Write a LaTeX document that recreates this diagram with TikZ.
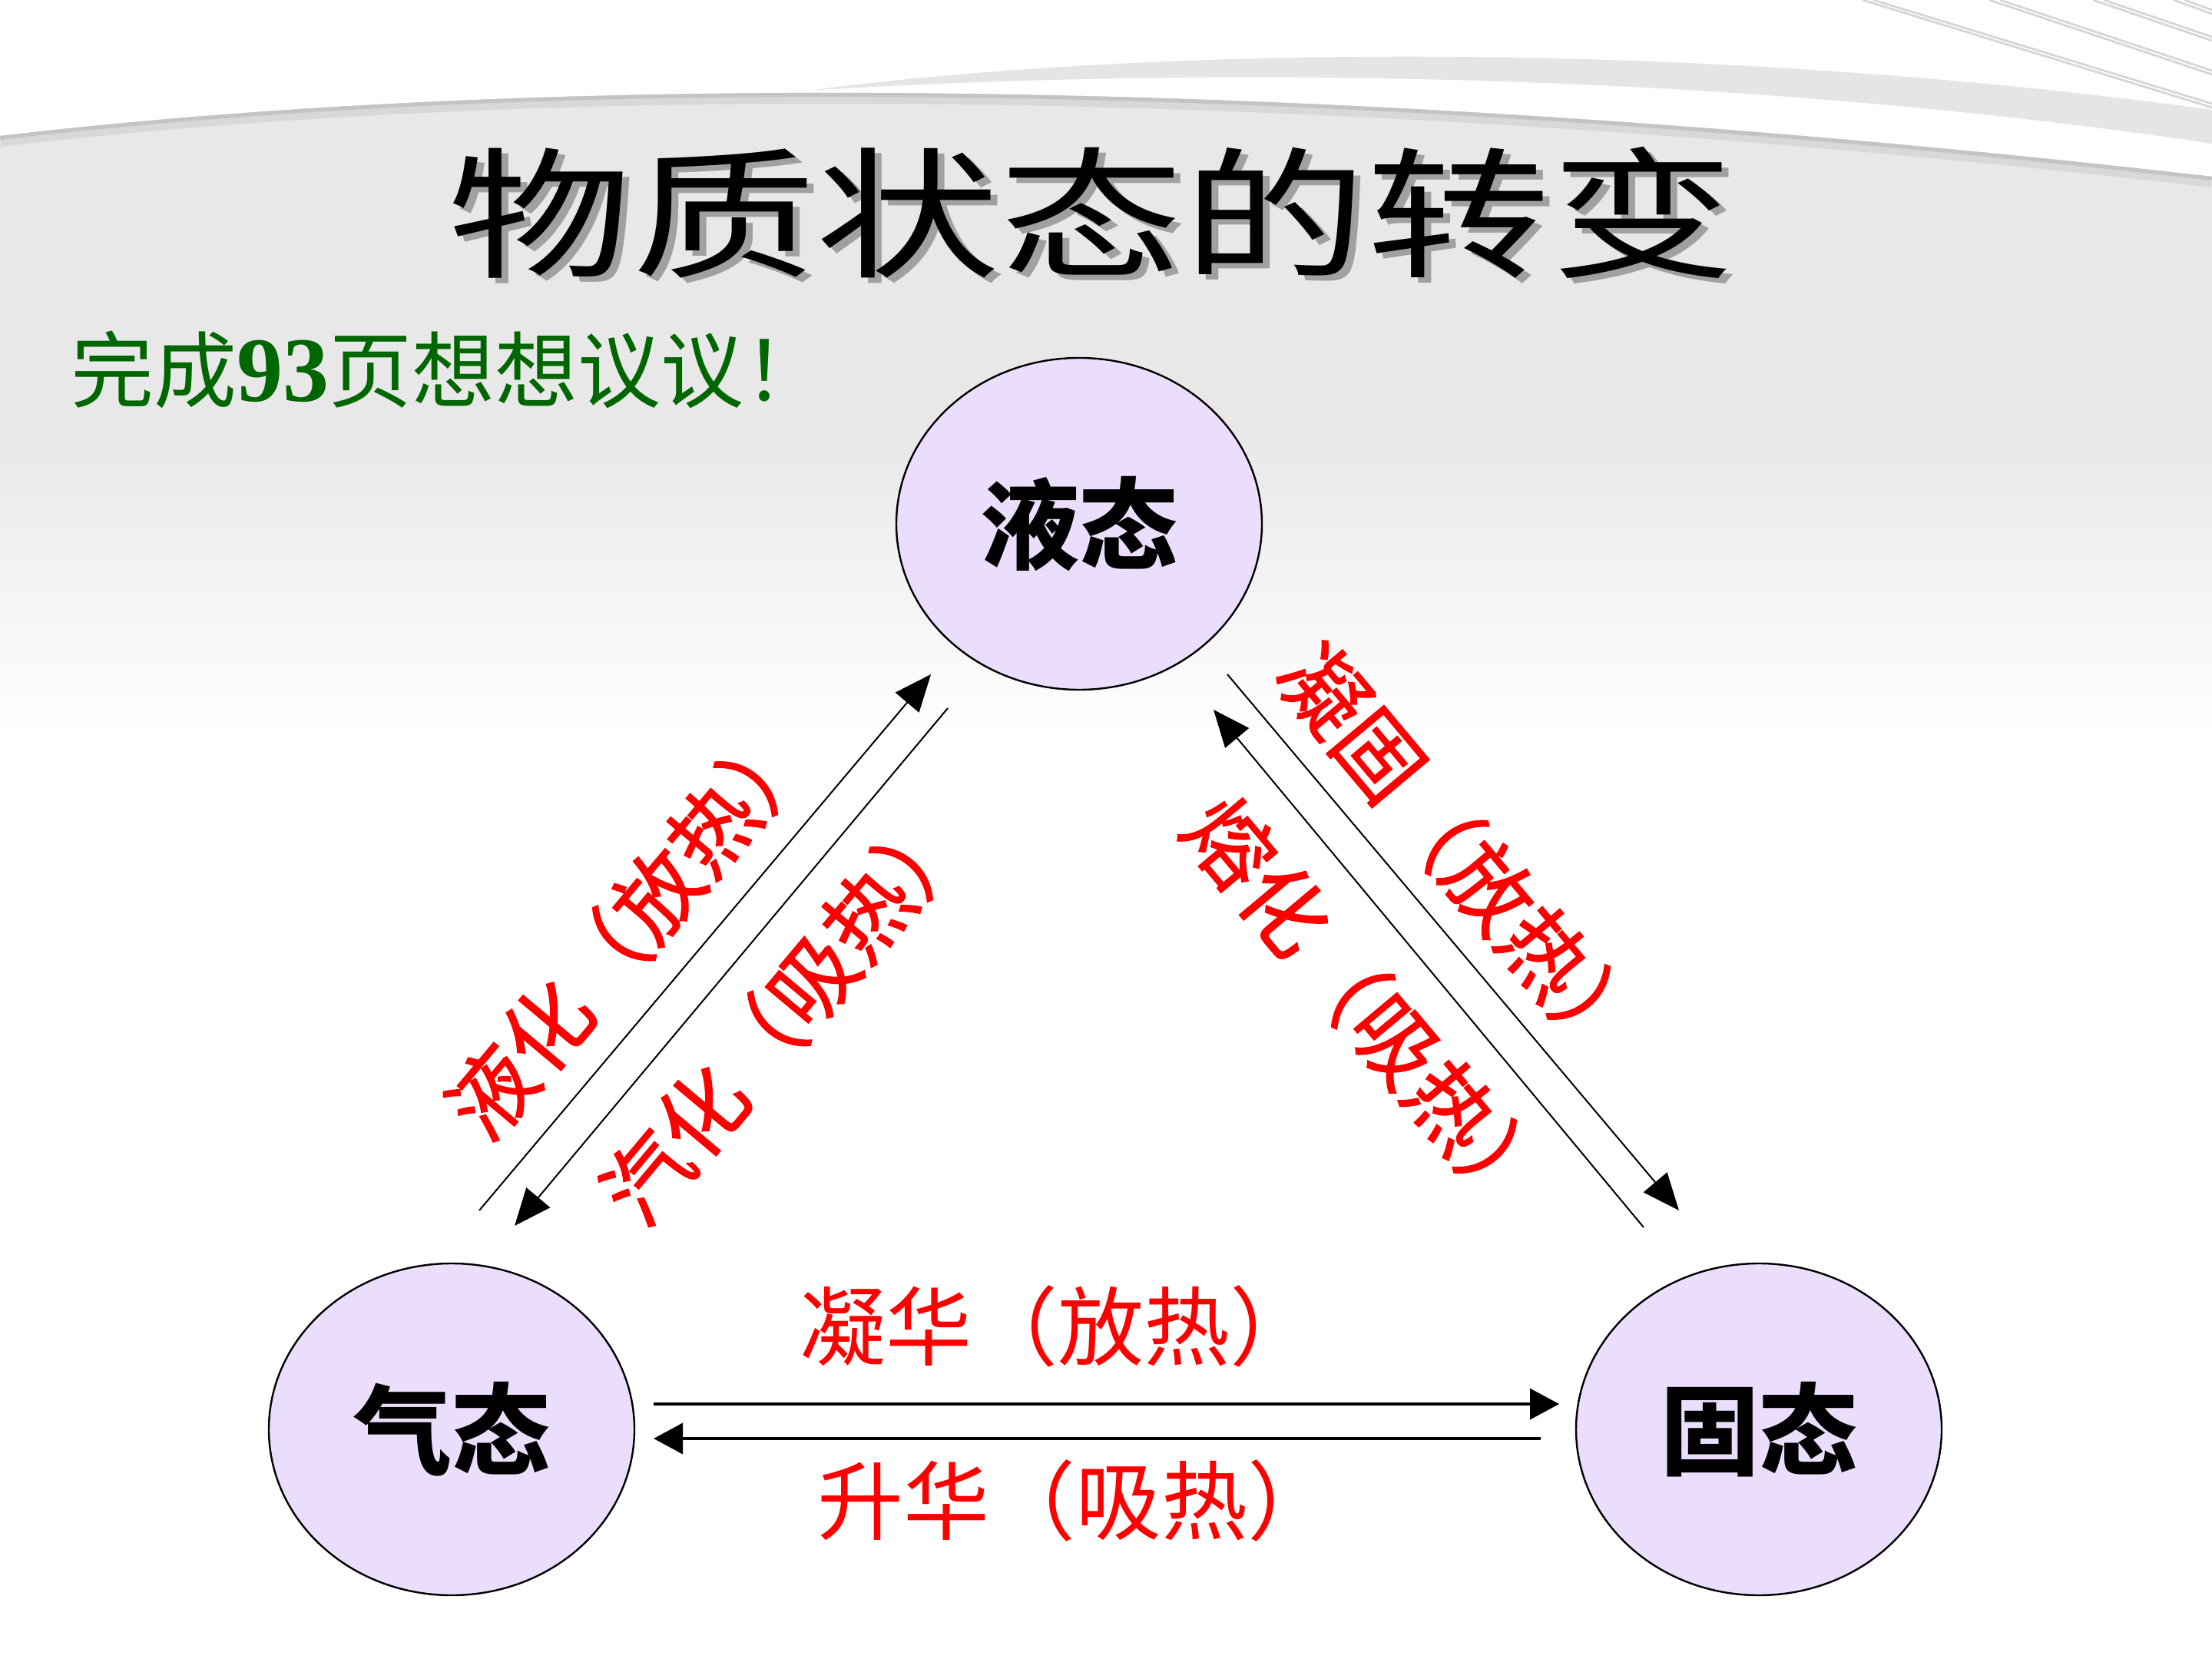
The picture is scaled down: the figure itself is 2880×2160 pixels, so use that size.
\documentclass[tikz,border=0pt]{standalone}
\usepackage{fontspec}
\newfontfamily\cjk{Noto Sans CJK SC}
\newfontfamily\cjkmed{Noto Sans CJK SC}[FakeBold=1.2]
\newfontfamily\numfont{Liberation Serif}
\usetikzlibrary{arrows.meta,shapes.geometric}
\definecolor{bggray}{RGB}{232,232,232}
\definecolor{bandgray}{RGB}{229,229,229}
\definecolor{edgegray}{RGB}{196,196,196}
\definecolor{edgegraylight}{RGB}{216,216,216}
\definecolor{linegray}{RGB}{214,214,214}
\definecolor{lavender}{RGB}{234,222,252}
\definecolor{titleshadow}{RGB}{160,160,160}
\definecolor{darkgreen}{RGB}{0,102,0}
\begin{document}
\begin{tikzpicture}[x=0.25pt,y=-0.25pt,
  state/.style={ellipse, draw=black, line width=0.6pt, fill=lavender,
    minimum width=119pt, minimum height=108pt, inner sep=0pt,
    font=\cjk\bfseries\fontsize{32}{38}\selectfont},
  hlabel/.style={text=red, inner sep=0pt, font=\cjk\fontsize{28}{34}\selectfont},
  dlabel/.style={text=red, inner sep=0pt, font=\cjkmed\fontsize{28}{34}\selectfont},
  thinarrow/.style={-{Triangle[length=12pt,width=10pt]}, line width=0.5pt},
  thickarrow/.style={-{Triangle[length=9.5pt,width=10pt]}, line width=0.9pt},
  titlefont/.style={inner sep=0pt, xscale=1.3, font=\cjk\fontsize{46}{56}\selectfont},
  corner/.style={linegray, line width=0.7pt}
]
% ---------- background ----------
\useasboundingbox (0,0) rectangle (2880,2160);
\fill[white] (0,0) rectangle (2880,2160);
\fill[bggray] (0,177) .. controls (700,95) and (1700,95) .. (2880,230)
  -- (2880,562) -- (0,562) -- cycle;
\shade[top color=bggray, bottom color=white] (0,560) rectangle (2880,960);
\begin{scope}
  \clip (0,177) .. controls (700,95) and (1700,95) .. (2880,230)
    -- (2880,420) -- (0,420) -- cycle;
  \draw[edgegraylight, line width=7pt]
    (0,177) .. controls (700,95) and (1700,95) .. (2880,230);
  \draw[edgegray, line width=2.5pt]
    (0,177) .. controls (700,95) and (1700,95) .. (2880,230);
\end{scope}
\fill[bandgray] (1050,118) .. controls (1500,60) and (2200,50) .. (2880,143)
  -- (2880,187) .. controls (2200,85) and (1500,90) .. (1050,118) -- cycle;
\foreach \a/\c in {2425/140, 2590/97, 2725/53, 2830/18}{
  \draw[corner] (\a,0) -- (2880,\c);
  \draw[corner] (\a+14,0) -- (2880,\c-5);
}
% ---------- title ----------
\node[titlefont, text=titleshadow] (titleshadow) at (1430,284) {物质状态的转变};
\node[titlefont, text=black] (title) at (1421,277) {物质状态的转变};
\node[anchor=west, inner sep=0pt, text=darkgreen,
  font=\cjk\fontsize{27}{32}\selectfont] (task) at (92,481)
  {完成{\numfont\bfseries\fontsize{30}{34}\selectfont 93}页想想议议！};
% ---------- states ----------
\node[state] (liquid) at (1405,682) {液态};
\node[state] (gas) at (588,1861) {气态};
\node[state] (solid) at (2290,1861) {固态};
% ---------- connector ends ----------
\coordinate (lhTail) at (624,1576);  \coordinate (lhTip) at (1212,878);
\coordinate (qhTail) at (1234,922);  \coordinate (qhTip) at (670,1596);
\coordinate (ngTail) at (1598,878);  \coordinate (ngTip) at (2186,1576);
\coordinate (rhTail) at (2140,1598); \coordinate (rhTip) at (1580,924);
\coordinate (nhTail) at (851,1828);  \coordinate (nhTip) at (2030,1828);
\coordinate (shTail) at (2006,1873); \coordinate (shTip) at (851,1873);
% ---------- connectors ----------
\draw[thinarrow] (lhTail) -- (lhTip);
\draw[thinarrow] (qhTail) -- (qhTip);
\draw[thinarrow] (ngTail) -- (ngTip);
\draw[thinarrow] (rhTail) -- (rhTip);
\draw[thickarrow] (nhTail) -- (nhTip);
\draw[thickarrow] (shTail) -- (shTip);
% ---------- labels ----------
\node[dlabel, rotate=50] (lhLabel) at (820,1207) {液化（放热）};
\node[dlabel, rotate=50] (qhLabel) at (1022,1318) {汽化（吸热）};
\node[dlabel, rotate=-50] (ngLabel) at (1904,1112) {凝固（放热）};
\node[dlabel, rotate=-50] (rhLabel) at (1782,1312) {熔化（吸热）};
\node[hlabel] (nhLabel) at (1377,1727) {凝华（放热）};
\node[hlabel] (shLabel) at (1400,1954) {升华（吸热）};
\end{tikzpicture}
\end{document}
